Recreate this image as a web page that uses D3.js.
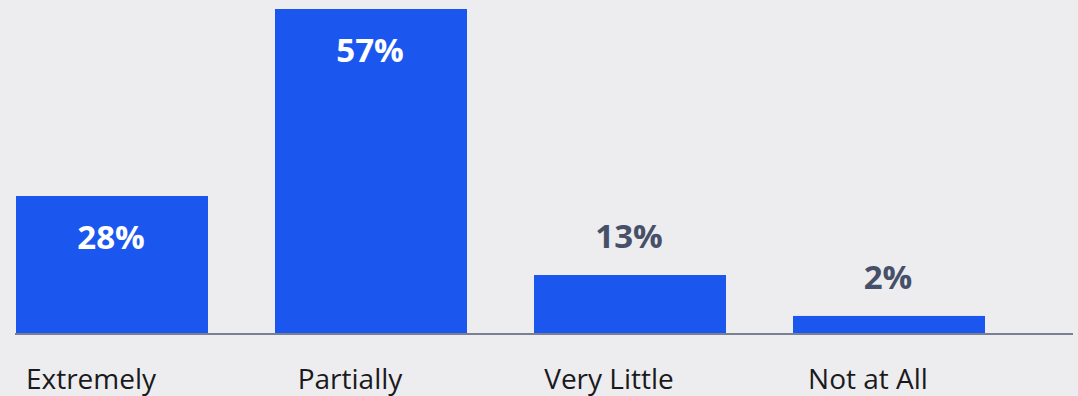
<!DOCTYPE html>
<html>
<head>
<meta charset="utf-8">
<script src="https://cdn.jsdelivr.net/npm/d3@7/dist/d3.min.js"></script>
<style>
  html, body { margin: 0; padding: 0; background: #ededef; }
  svg { display: block; }
</style>
</head>
<body>
<div id="chart"></div>
<script>
// categories and the printed shares
var categories = ['Extremely', 'Partially', 'Very Little', 'Not at All'];
var shares = [28, 57, 13, 2];
// bar lengths as drawn in the source, in % units (not proportional to the printed shares)
var barLengths = [24.1, 57, 10.2, 3];

var width = 1078, height = 396;
var baseY = 333;
var barColor = '#1b57ee';
var outsideLabelColor = '#475069';

var svg = d3.select('#chart').append('svg')
    .attr('width', width)
    .attr('height', height)
    .style('background-color', '#ededef');

var x = d3.scaleBand()
    .domain(categories)
    .range([16, 985])
    .paddingInner(67 / 259)
    .paddingOuter(0);

var y = d3.scaleLinear()
    .domain([0, 57])
    .range([baseY, 9]);

var rows = categories.map(function (c, i) {
  return { cat: c, share: shares[i], len: barLengths[i] };
});

// bars
svg.append('g')
  .selectAll('rect')
  .data(rows)
  .enter()
  .append('rect')
    .attr('x', function (d) { return x(d.cat); })
    .attr('y', function (d) { return y(d.len); })
    .attr('width', x.bandwidth())
    .attr('height', function (d) { return baseY - y(d.len); })
    .attr('fill', barColor);

// baseline
svg.append('line')
    .attr('x1', 15)
    .attr('x2', 1073)
    .attr('y1', baseY + 1)
    .attr('y2', baseY + 1)
    .attr('stroke', '#7a8091')
    .attr('stroke-width', 2);

// value labels: inside big bars, above small ones
svg.append('g')
  .selectAll('text')
  .data(rows)
  .enter()
  .append('text')
    .attr('x', function (d) { return x(d.cat) + x.bandwidth() / 2 - 1; })
    .attr('y', function (d) {
      return d.share >= 20 ? y(d.len) + 53 : y(d.len) - 27;
    })
    .attr('text-anchor', 'middle')
    .style('font-family', '"Open Sans", sans-serif')
    .style('font-weight', 700)
    .style('font-size', '33px')
    .style('fill', function (d) { return d.share >= 20 ? '#ffffff' : outsideLabelColor; })
    .text(function (d) { return d.share + '%'; });

// category labels
svg.append('g')
  .selectAll('text')
  .data(rows)
  .enter()
  .append('text')
    .attr('x', function (d) { return x(d.cat) + x.bandwidth() / 2 - 21; })
    .attr('y', 389)
    .attr('text-anchor', 'middle')
    .style('font-family', '"Open Sans", sans-serif')
    .style('font-size', '28px')
    .style('fill', '#1a1a1c')
    .text(function (d) { return d.cat; });
</script>
</body>
</html>
